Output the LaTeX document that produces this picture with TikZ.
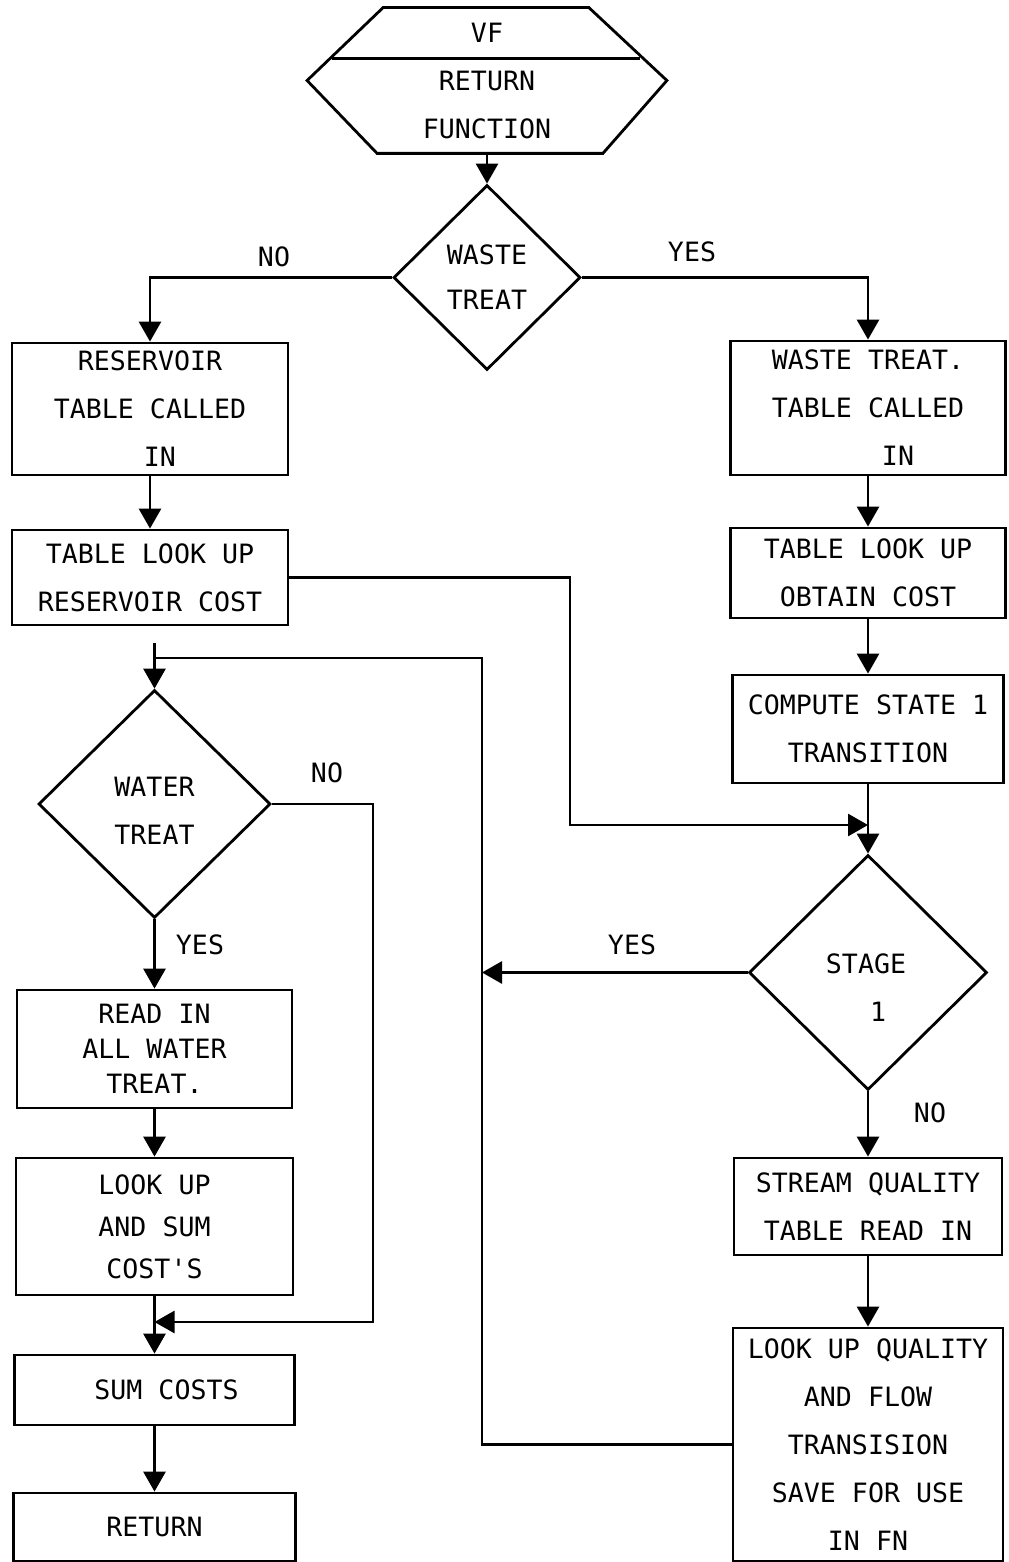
\documentclass[tikz,border=0pt]{standalone}
\usepackage{fontspec}
\setmonofont{DejaVu Sans Mono}
\usetikzlibrary{arrows.meta,shapes.geometric}

\tikzset{every node/.style={font=\ttfamily\fontsize{13.3}{24}\selectfont},
  box/.style={draw,rectangle,line width=1.4pt,align=center,inner sep=0pt},
  decision/.style={draw,diamond,aspect=1,line width=1.4pt,align=center,inner sep=0pt},
  arr/.style={line width=1.4pt,-{Triangle[width=11pt,length=10pt]}},
  flow/.style={line width=1.3pt}}

\begin{document}
\begin{tikzpicture}[x=0.5pt,y=-0.5pt]
\useasboundingbox (0,0) rectangle (1008,1562);

% start
\node[minimum width=179.5pt,minimum height=72.5pt,inner sep=0pt,align=center] (vf) at (487,80.5) {VF\\RETURN\\FUNCTION};
\draw[line width=1.4pt] ([xshift=38pt]vf.north west) -- ([xshift=-39pt]vf.north east) -- (vf.east)
  -- ([xshift=-32pt]vf.south east) -- ([xshift=35pt]vf.south west) -- (vf.west) -- cycle;
\draw[line width=1.4pt] ([shift={(12.5pt,-25.5pt)}]vf.north west) -- ([shift={(-13.5pt,-25.5pt)}]vf.north east);

% decisions
\node[decision,minimum width=93.5pt,minimum height=92.5pt] (waste) at (487,277.5) {WASTE\\[-1.5pt]TREAT};
\node[decision,minimum width=116pt,minimum height=114pt] (water) at (154.5,804) {};
\node[align=center] (watertxt) at (154.5,811) {WATER\\TREAT};
\node[decision,minimum width=119pt,minimum height=117.5pt] (stage) at (868,972.5) {};
\node[align=center] (stagetxt) at (866,988) {STAGE\\\hspace{12pt}1};

% left column
\node[box,minimum width=138pt,minimum height=66pt] (res) at (150,409) {RESERVOIR\\TABLE CALLED\\\hspace{10pt}IN};
\node[box,minimum width=138pt,minimum height=47.5pt] (rescost) at (150,577.5) {TABLE LOOK UP\\RESERVOIR COST};
\node[box,minimum width=137.5pt,minimum height=59pt,font=\ttfamily\fontsize{13.3}{17.5}\selectfont] (readin) at (154.5,1049) {READ IN\\ALL WATER\\TREAT.};
\node[box,minimum width=138.5pt,minimum height=68.5pt,font=\ttfamily\fontsize{13.3}{21}\selectfont] (lookup) at (154.5,1226.5) {LOOK UP\\AND SUM\\COST'S};
\node[box,minimum width=140pt,minimum height=35pt] (sum) at (154.5,1390) {\hspace{12pt}SUM COSTS};
\node[box,minimum width=141pt,minimum height=34pt] (ret) at (154.5,1527) {RETURN};

% right column
\node[box,minimum width=137.5pt,minimum height=67pt] (wtab) at (868,408) {WASTE TREAT.\\TABLE CALLED\\\hspace{30pt}IN};
\node[box,minimum width=137.5pt,minimum height=45pt] (wcost) at (868,573) {TABLE LOOK UP\\OBTAIN COST};
\node[box,minimum width=135.5pt,minimum height=54pt] (comp) at (868,729) {COMPUTE STATE 1\\TRANSITION};
\node[box,minimum width=134pt,minimum height=48.5pt] (stream) at (868,1206.5) {STREAM QUALITY\\TABLE READ IN};
\node[box,minimum width=135pt,minimum height=116.5pt] (lookq) at (868,1444.5) {LOOK UP QUALITY\\AND FLOW\\TRANSISION\\SAVE FOR USE\\IN FN};

% labels
\node (no1) at (274,257) {NO};
\node (yes1) at (692,252) {YES};
\node (no2) at (327,773) {NO};
\node (yes2) at (200,945) {YES};
\node (yes3) at (632,945) {YES};
\node (no3) at (930,1113) {NO};

% bends
\coordinate (bend1) at (570,825);
\coordinate (loop) at (482,658);
\coordinate (stub) at (154.5,643);
\coordinate (bend2) at (373,1322);

% connectors
\draw[arr] (vf.south) -- (waste.north);
\draw[arr] (waste.west) -| (res.north);
\draw[arr] (waste.east) -| (wtab.north);
\draw[arr] (res.south) -- (rescost.north);
\draw[arr] (wtab.south) -- (wcost.north);
\draw[arr] (wcost.south) -- (comp.north);
\draw[arr] (comp.south) -- (stage.north);
\draw[flow,arr] (rescost.east) -| (bend1) -- (bend1 -| stage.north);
\draw[flow,arr] (stage.west) -- (stage.west -| loop);
\draw[flow] (lookq.west) -| (loop) -- (loop -| water.north);
\draw[arr] (stub) -- (water.north);
\draw[arr] (stage.south) -- (stream.north);
\draw[arr] (stream.south) -- (lookq.north);
\draw[arr] (water.south) -- (readin.north);
\draw[arr] (readin.south) -- (lookup.north);
\draw[arr] (lookup.south) -- (sum.north);
\draw[arr] (sum.south) -- (ret.north);
\draw[flow,arr] (water.east) -| (bend2) -- (bend2 -| lookup.south);
\end{tikzpicture}
\end{document}
